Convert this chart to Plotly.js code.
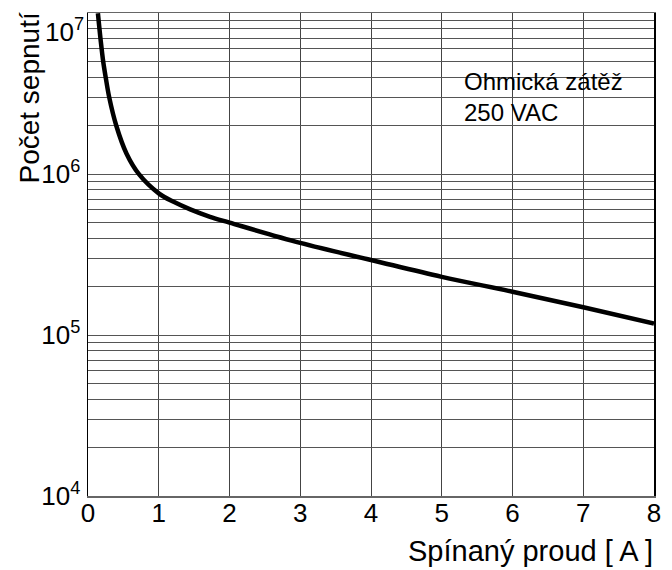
<!DOCTYPE html>
<html>
<head>
<meta charset="utf-8">
<script src="https://cdn.plot.ly/plotly-3.0.1.min.js"></script>
<style>html,body{margin:0;padding:0;background:#fff;}#chart{width:672px;height:570px;}</style>
</head>
<body>
<div id="chart"></div>
<script>
// Data
const currentA = [0.14, 0.179, 0.215, 0.25, 0.30, 0.40, 0.545, 0.72, 1.0, 1.21, 1.445, 1.725, 2, 3, 4, 5, 6, 7, 8];
const switchings = [1.0e7, 6.8e6, 5.0e6, 4.0e6, 3.0e6, 2.0e6, 1.34e6, 1.0e6, 7.6e5, 6.73e5, 6.04e5, 5.43e5, 5.0e5, 3.74e5, 2.93e5, 2.30e5, 1.86e5, 1.49e5, 1.18e5];

const xTickVals = [0, 1, 2, 3, 4, 5, 6, 7, 8];
const xTickText = ['0', '1', '2', '3', '4', '5', '6', '7', '8'];
const yDecades = [1e4, 1e5, 1e6, 1e7];
const yDecadeText = ['10<sup>4</sup>', '10<sup>5</sup>', '10<sup>6</sup>', '10<sup>7</sup>'];
const yMinorMultipliers = [1, 2, 3, 4, 5, 6, 7, 8, 9];

const xTitle = 'Spínaný proud [ A ]';
const yTitle = 'Počet sepnutí';
const noteLines = ['Ohmická zátěž', '250 VAC'];

// build log grid ticks (top decade label drawn as annotation so it sits inside the page)
const yTickVals = [];
const yTickText = [];
const lastIdx = yDecades.length - 1;
yDecades.forEach((d, i) => {
  if (i === lastIdx) { yTickVals.push(d); yTickText.push(''); return; }
  yMinorMultipliers.forEach(m => {
    yTickVals.push(d * m);
    yTickText.push(m === 1 ? yDecadeText[i] : '');
  });
});

const tickFont = {family: '"Liberation Sans Narrow", "Liberation Sans", Arial, sans-serif', size: 26, color: '#000'};
const textFamily = '"Liberation Sans", Arial, sans-serif';

const trace = {
  x: currentA, y: switchings, type: 'scatter', mode: 'lines',
  line: {color: '#000', width: 4.5, shape: 'spline', smoothing: 1.0},
  hoverinfo: 'skip'
};

const layout = {
  width: 672, height: 570,
  margin: {l: 88, r: 18, t: 13, b: 74},
  paper_bgcolor: '#fff', plot_bgcolor: '#fff',
  showlegend: false,
  xaxis: {
    range: [0, 8], tickvals: xTickVals, ticktext: xTickText,
    showgrid: true, gridcolor: '#444', gridwidth: 1,
    zeroline: false, showline: true, linecolor: '#666', linewidth: 1.5, mirror: true,
    ticks: '', tickfont: tickFont, ticklabelstandoff: -7
  },
  yaxis: {
    type: 'log', range: [4, 7.0015], tickvals: yTickVals, ticktext: yTickText,
    showgrid: true, gridcolor: '#555', gridwidth: 1,
    zeroline: false, showline: true, linecolor: '#000', linewidth: 1.5, mirror: true,
    ticks: '', tickfont: tickFont, ticklabelstandoff: 1
  },
  shapes: [{
    type: 'rect', xref: 'paper', yref: 'paper',
    x0: 0.645, x1: 0.952, y0: 0.754, y1: 0.907,
    fillcolor: '#fff', line: {width: 0}, layer: 'below'
  }],
  annotations: [
    {text: yDecadeText[lastIdx], xref: 'paper', yref: 'y', x: -0.005, y: Math.log10(yDecades[lastIdx]),
     xanchor: 'right', yanchor: 'top', showarrow: false, borderpad: 0,
     font: tickFont},
    {text: noteLines.join('<br>'), xref: 'paper', yref: 'paper', x: 0.661, y: 0.827,
     xanchor: 'left', yanchor: 'middle', align: 'left', showarrow: false,
     font: {family: textFamily, size: 24, color: '#000'}},
    {text: yTitle, xref: 'paper', yref: 'paper', x: -0.1025, y: 0.825,
     xanchor: 'center', yanchor: 'middle', textangle: -90, showarrow: false,
     font: {family: textFamily, size: 28, color: '#000'}},
    {text: xTitle, xref: 'paper', yref: 'paper', x: 1.002, y: -0.114,
     xanchor: 'right', yanchor: 'middle', showarrow: false,
     font: {family: textFamily, size: 29, color: '#000'}}
  ]
};

Plotly.newPlot('chart', [trace], layout, {staticPlot: true, displayModeBar: false});
</script>
</body>
</html>
